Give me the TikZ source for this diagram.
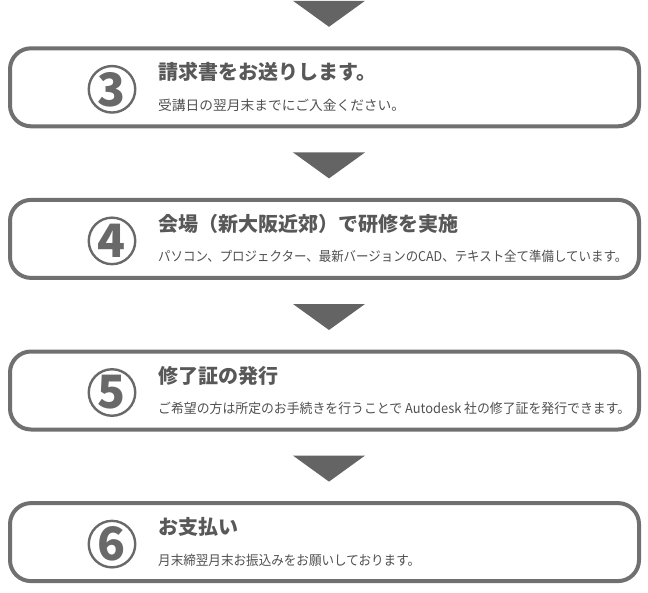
\documentclass[tikz,border=0pt]{standalone}
\usepackage{fontspec}
\usepackage{graphicx}
\usetikzlibrary{calc}
\newfontfamily\jp{Noto Sans CJK JP}
\definecolor{boxgray}{RGB}{112,112,112}
\definecolor{trigray}{RGB}{100,100,100}
\definecolor{numgray}{RGB}{105,105,105}
\definecolor{ttlgray}{RGB}{88,88,88}
\definecolor{subgray}{RGB}{80,80,80}
\newlength\fitlen
\newcommand\fitto[2]{\settowidth\fitlen{#2}\pgfmathsetmacro\fitratio{#1/\fitlen}\scalebox{\fitratio}[1]{#2}}
\tikzset{
  stepbox/.style={draw=boxgray, line width=4pt, rounded corners=21pt, minimum width=629pt, minimum height=78pt, inner sep=0pt},
  tri/.style={fill=trigray, draw=none},
  numcirc/.style={circle, draw=numgray, line width=2.4pt, minimum size=46.5pt, inner sep=0pt, text=numgray, font=\jp\bfseries\fontsize{46}{46}\selectfont},
  ttl/.style={anchor=base west, text=ttlgray, inner sep=0pt, font=\jp\bfseries\fontsize{20}{24}\selectfont},
  subt/.style={anchor=base west, text=subgray, inner sep=0pt, font=\jp\fontsize{13.5}{16}\selectfont}
}
\begin{document}
\begin{tikzpicture}[x=1pt,y=-1pt]
\useasboundingbox (0,0) rectangle (648,592);
% boxes: tops at 48.3 + 151.6k
\foreach \k/\num/\ttltext/\subtext/\w in {
  0/3/{請求書をお送りします。}/{受講日の翌月末までにご入金ください。}/247,
  1/4/{会場（新大阪近郊）で研修を実施}/{パソコン、プロジェクター、最新バージョンのCAD、テキスト全て準備しています。}/469,
  2/5/{修了証の発行}/{ご希望の方は所定のお手続きを行うことで Autodesk 社の修了証を発行できます。}/472,
  3/6/{お支払い}/{月末締翌月末お振込みをお願いしております。}/262}{
  \pgfmathsetmacro\T{48.3+151.6*\k}
  \node[stepbox] (box\num) at (324.5,\T+39) {};
  \coordinate (arrtop\num) at (329,\T-47.5);
  \fill[tri] ($(arrtop\num)+(-36,0)$) -- ($(arrtop\num)+(36,0)$) -- ($(arrtop\num)+(0,26)$) -- cycle;
  \node[numcirc] (num\num) at (112,\T+41) {\num};
  \node[ttl] (title\num) at (158,\T+31.5) {\ttltext};
  \node[subt] (sub\num) at (158,\T+62) {\fitto{\w pt}{\subtext}};
}
\end{tikzpicture}
\end{document}
